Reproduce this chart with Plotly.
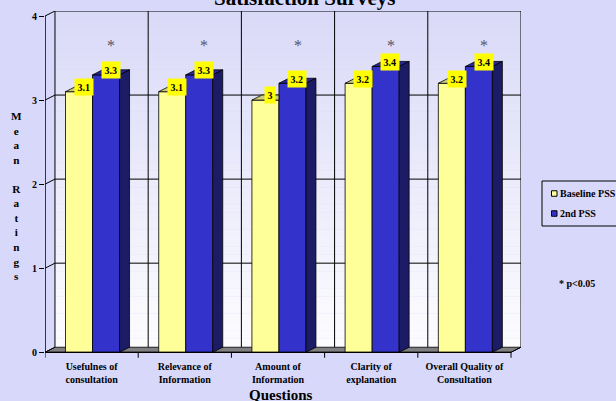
import plotly.graph_objects as go

# ---------------- data ----------------
categories = ["Usefulnes of<br>consultation", "Relevance of<br>Information",
              "Amount of<br>Information", "Clarity of<br>explanation",
              "Overall Quality of<br>Consultation"]
baseline_pss = [3.1, 3.1, 3.0, 3.2, 3.2]
second_pss = [3.3, 3.3, 3.2, 3.4, 3.4]
series_names = ["Baseline PSS", "2nd PSS"]
significant = [True, True, True, True, True]
y_ticks = [0, 1, 2, 3, 4]
title_text = "Satisfaction Surveys"
y_title = "Mean Ratings"
x_title = "Questions"
note_text = "* p<0.05"

# ---------------- layout constants ----------------
W, H = 616, 401
L, R, T, B = 45, 95, 11, 42
DX, DY = 0.107, 0.06          # 3D depth offset (data units)
BW = 0.29                      # bar width
OFFS = [-0.135, 0.155]         # bar offsets inside a category
XR = [-0.5, 4.5 + DX]
YR = [-0.08, 4 + DY]
SERIF = "Liberation Serif, Times New Roman, serif"
PAPER = "rgb(216,216,250)"

FRONT = ["#FFFF99", "#3333CC"]
TOP = ["#CCCC7A", "#262699"]
SIDE = ["#AAAA55", "#1C1C66"]


def fx(px):
    return (px - L) / (W - L - R)


def fy(py):
    return (H - B - py) / (H - T - B)


n = len(categories)
fig = go.Figure()

# front faces
for s, vals in enumerate([baseline_pss, second_pss]):
    fig.add_trace(go.Bar(
        x=[i + OFFS[s] for i in range(n)], y=vals, width=BW,
        marker=dict(color=FRONT[s], line=dict(color="black", width=0.8)),
        showlegend=False, hoverinfo="skip", name=series_names[s]))

# 3D faces
for s, vals in enumerate([baseline_pss, second_pss]):
    tx, ty, sx, sy = [], [], [], []
    for i, v in enumerate(vals):
        x0 = i + OFFS[s] - BW / 2
        x1 = i + OFFS[s] + BW / 2
        if s == 0:
            tx += [x0, x1, x1, x0 + DX, x0, None]
            ty += [v, v, v + DY, v + DY, v, None]
        else:
            tx += [x0, x1, x1 + DX, x0 + DX, x0, None]
            ty += [v, v, v + DY, v + DY, v, None]
            sx += [x1, x1 + DX, x1 + DX, x1, x1, None]
            sy += [0, DY, v + DY, v, 0, None]
    fig.add_trace(go.Scatter(x=tx, y=ty, mode="lines", fill="toself",
                             fillcolor=TOP[s], line=dict(color="black", width=0.8),
                             showlegend=False, hoverinfo="skip"))
    if sx:
        fig.add_trace(go.Scatter(x=sx, y=sy, mode="lines", fill="toself",
                                 fillcolor=SIDE[s], line=dict(color="black", width=0.8),
                                 showlegend=False, hoverinfo="skip"))

shapes = []
# back wall gradient
NSTR = 40
top_c = (218, 218, 248)
bot_c = (252, 252, 255)
for k in range(NSTR):
    t = k / (NSTR - 1)
    c = tuple(round(top_c[j] + (bot_c[j] - top_c[j]) * t) for j in range(3))
    y1 = 4 + DY - 4 * k / NSTR
    y0 = 4 + DY - 4 * (k + 1) / NSTR
    shapes.append(dict(type="rect", xref="x", yref="y", layer="below",
                       x0=-0.5 + DX, x1=4.5 + DX, y0=y0, y1=y1 + 0.001,
                       fillcolor="rgb(%d,%d,%d)" % c, line=dict(width=0)))
# floor
shapes.append(dict(type="path", xref="x", yref="y", layer="below",
                   path="M -0.5,0 L 4.5,0 L %f,%f L %f,%f Z" % (4.5 + DX, DY, -0.5 + DX, DY),
                   fillcolor="#808080", line=dict(color="black", width=0.8)))
# wall gridlines + diagonals
for v in y_ticks:
    if v > 0:
        shapes.append(dict(type="line", xref="x", yref="y", layer="below",
                           x0=-0.5 + DX, x1=4.5 + DX, y0=v + DY, y1=v + DY,
                           line=dict(color="black", width=1)))
    shapes.append(dict(type="line", xref="x", yref="y", layer="below",
                       x0=-0.5, x1=-0.5 + DX, y0=v, y1=v + DY,
                       line=dict(color="black", width=1)))
# wall verticals
for b in range(n + 1):
    shapes.append(dict(type="line", xref="x", yref="y", layer="below",
                       x0=b - 0.5 + DX, x1=b - 0.5 + DX, y0=DY, y1=4 + DY,
                       line=dict(color="black", width=1)))
# front axis lines
shapes.append(dict(type="line", xref="x", yref="y", x0=-0.5, x1=-0.5, y0=0, y1=4,
                   line=dict(color="black", width=1.5)))
shapes.append(dict(type="line", xref="x", yref="y", x0=-0.5, x1=4.5, y0=0, y1=0,
                   line=dict(color="black", width=1.2)))
shapes.append(dict(type="line", xref="x", yref="y", x0=4.5, x1=4.5 + DX, y0=0, y1=DY,
                   line=dict(color="black", width=1)))
for b in range(n + 1):
    shapes.append(dict(type="line", xref="x", yref="y", x0=b - 0.5, x1=b - 0.5,
                       y0=0, y1=-0.065, line=dict(color="black", width=1)))

# legend (manual)
shapes.append(dict(type="rect", xref="paper", yref="paper",
                   x0=fx(542), x1=fx(640), y0=fy(226), y1=fy(181),
                   fillcolor=PAPER, line=dict(color="black", width=1)))
leg_y = [193.5, 213.5]
for s in range(2):
    shapes.append(dict(type="rect", xref="paper", yref="paper",
                       x0=fx(551.5), x1=fx(557), y0=fy(leg_y[s] + 2.75), y1=fy(leg_y[s] - 2.75),
                       fillcolor=FRONT[s], line=dict(color="black", width=1)))

annotations = []
# data labels
for s, vals in enumerate([baseline_pss, second_pss]):
    for i, v in enumerate(vals):
        annotations.append(dict(
            x=i + OFFS[s] + 0.05, y=v + 0.055, xref="x", yref="y",
            text="<b>%g</b>" % v, showarrow=False, bgcolor="#FFFF00",
            borderpad=2.5, font=dict(family=SERIF, size=10, color="black")))
# significance asterisks
for i, sig in enumerate(significant):
    if sig:
        annotations.append(dict(x=i + 0.21, y=3.655, xref="x", yref="y", text="*",
                                showarrow=False,
                                font=dict(family=SERIF, size=16, color="#555566")))
# y title stacked letters
letters = "<br>".join(ch if ch != " " else "\u00a0" for ch in y_title)
annotations.append(dict(x=fx(16), y=fy(195.5), xref="paper", yref="paper",
                        text="<b>" + letters + "</b>", showarrow=False,
                        xanchor="center", yanchor="middle", align="center",
                        font=dict(family=SERIF, size=11.2, color="black")))
# x title
annotations.append(dict(x=fx(281), y=fy(394.5), xref="paper", yref="paper",
                        text="<b>" + x_title + "</b>", showarrow=False,
                        xanchor="center", yanchor="middle",
                        font=dict(family=SERIF, size=15, color="black")))
# legend texts
for s in range(2):
    annotations.append(dict(x=fx(557.5), y=fy(leg_y[s]), xref="paper", yref="paper",
                            text="<b>" + series_names[s] + "</b>", showarrow=False,
                            xanchor="left", yanchor="middle",
                            font=dict(family=SERIF, size=10, color="black")))
# note
annotations.append(dict(x=fx(557), y=fy(283), xref="paper", yref="paper",
                        text="<b>" + note_text + "</b>", showarrow=False,
                        xanchor="left", yanchor="middle",
                        font=dict(family=SERIF, size=10, color="black")))
# title
annotations.append(dict(x=fx(304), y=fy(12.5), xref="paper", yref="paper",
                        text="<b>" + title_text + "</b>", showarrow=False,
                        xanchor="center", yanchor="bottom",
                        font=dict(family=SERIF, size=21, color="black")))

fig.update_layout(
    width=W, height=H, autosize=False,
    margin=dict(l=L, r=R, t=T, b=B, pad=0),
    paper_bgcolor=PAPER, plot_bgcolor="rgba(0,0,0,0)",
    barmode="overlay", showlegend=False,
    shapes=shapes, annotations=annotations,
    xaxis=dict(range=XR, tickmode="array", tickvals=list(range(n)),
               ticktext=["<b>" + c + "</b>" for c in categories],
               showgrid=False, zeroline=False, showline=False, ticks="",
               tickfont=dict(family=SERIF, size=10, color="black"),
               fixedrange=True),
    yaxis=dict(range=YR, tickmode="array", tickvals=y_ticks,
               ticktext=["<b>%d</b>" % v for v in y_ticks],
               showgrid=False, zeroline=False, showline=False,
               ticks="outside", ticklen=5, tickwidth=1, tickcolor="black",
               tickfont=dict(family=SERIF, size=10, color="black"),
               fixedrange=True),
)

fig.write_html("out.html")
